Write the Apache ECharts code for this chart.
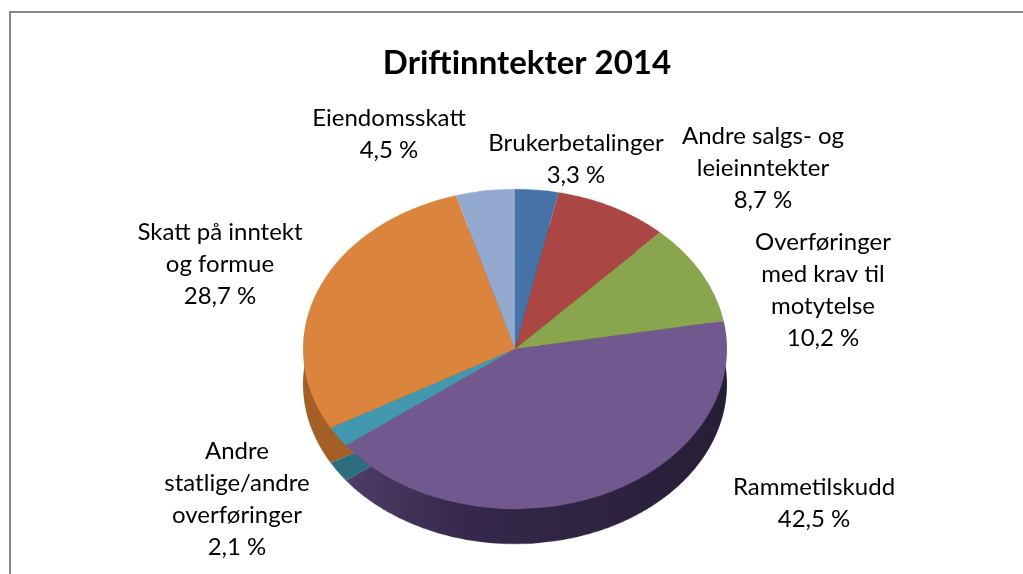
<!DOCTYPE html>
<html>
<head>
<meta charset="utf-8">
<script src="https://cdn.jsdelivr.net/npm/echarts@6/dist/echarts.min.js"></script>
<style>
  html, body { margin: 0; padding: 0; background: #ffffff; overflow: hidden; }
  #wrap { position: relative; width: 1023px; height: 574px; overflow: hidden; }
  /* pie is drawn in an unsquashed box and flattened to an ellipse */
  #pie { position: absolute; left: 0; top: 0; width: 1023px; height: 800px;
         transform: scaleY(0.755); transform-origin: 0 0; }
  #overlay { position: absolute; left: 0; top: 0; width: 1023px; height: 574px; }
</style>
</head>
<body>
<div id="wrap">
  <div id="pie"></div>
  <div id="overlay"></div>
</div>
<script>
const title = "Driftinntekter 2014";
const categories = [
  "Brukerbetalinger",
  "Andre salgs- og\nleieinntekter",
  "Overføringer\nmed krav til\nmotytelse",
  "Rammetilskudd",
  "Andre\nstatlige/andre\noverføringer",
  "Skatt på inntekt\nog formue",
  "Eiendomsskatt",
];
const values = [3.3, 8.7, 10.2, 42.5, 2.1, 28.7, 4.5];

const topColors = ["#4572A7", "#AA4643", "#89A54E", "#71588F", "#4198AF", "#DB843D", "#93A9CF"];
const sideColors = ["#2E4C72", "#72302E", "#5C6E34", null, "#2C6E80", "#A45F27", "#64739A"];

const SCALE = 0.755;
const CX = 515;
const CY = 349;      // apex on the page
const R = 212;
const DEPTH = 35;    // thickness of the pie on the page

// label centres on the page
const labelPos = [
  [576, 159],
  [763, 168],
  [823, 290],
  [814, 503],
  [237, 499],
  [220, 264],
  [389, 134],
];

const fontFamily = "Lato, 'Open Sans', sans-serif";

const pieChart = echarts.init(document.getElementById("pie"), null, { renderer: "canvas" });
const overlay = echarts.init(document.getElementById("overlay"), null, { renderer: "canvas" });

const purpleSide = new echarts.graphic.LinearGradient(0, 0, 1, 0, [
  { offset: 0, color: "#4E3D68" },
  { offset: 0.3, color: "#36294D" },
  { offset: 1, color: "#281E36" },
]);

const sideData = categories.map((name, i) => ({
  name: name,
  value: values[i],
  itemStyle: { color: sideColors[i] || purpleSide },
}));
const topData = categories.map((name, i) => ({
  name: name,
  value: values[i],
  itemStyle: { color: topColors[i] },
}));

pieChart.setOption({
  animation: false,
  series: [
    {
      // side wall: same pie pushed down, only its front rim stays visible
      type: "pie",
      z: 1,
      center: [CX, (CY + DEPTH) / SCALE],
      radius: R,
      startAngle: 90,
      clockwise: true,
      silent: true,
      label: { show: false },
      labelLine: { show: false },
      itemStyle: { borderWidth: 0 },
      emphasis: { disabled: true },
      data: sideData,
    },
    {
      type: "pie",
      z: 2,
      center: [CX, CY / SCALE],
      radius: R,
      startAngle: 90,
      clockwise: true,
      silent: true,
      label: { show: false },
      labelLine: { show: false },
      itemStyle: { borderWidth: 0 },
      emphasis: { disabled: true },
      data: topData,
    },
  ],
});

overlay.setOption({
  animation: false,
  backgroundColor: "transparent",
  title: {
    text: title,
    left: 522,
    top: 58,
    textAlign: "center",
    textVerticalAlign: "middle",
    textStyle: {
      fontFamily: fontFamily,
      fontSize: 33,
      fontWeight: "bold",
      color: "#000000",
    },
  },
  graphic: [
    {
      type: "rect",
      silent: true,
      shape: { x: 10, y: 12, width: 1100, height: 700 },
      style: { fill: "none", stroke: "#878787", lineWidth: 2 },
    },
  ],
  series: [
    {
      type: "pie",
      center: [CX, CY],
      radius: R * 0.75,
      startAngle: 90,
      clockwise: true,
      silent: true,
      itemStyle: { color: "transparent" },
      emphasis: { disabled: true },
      labelLine: { show: false },
      label: {
        show: true,
        position: "outside",
        fontFamily: fontFamily,
        fontSize: 24,
        lineHeight: 32,
        color: "#000000",
        align: "center",
        formatter: (p) => p.name + "\n" + p.value.toFixed(1).replace(".", ",") + " %",
      },
      labelLayout: (params) => {
        const pos = labelPos[params.dataIndex];
        return { x: pos[0], y: pos[1], align: "center", verticalAlign: "middle", hideOverlap: false };
      },
      data: categories.map((name, i) => ({ name: name, value: values[i] })),
    },
  ],
});
</script>
</body>
</html>
